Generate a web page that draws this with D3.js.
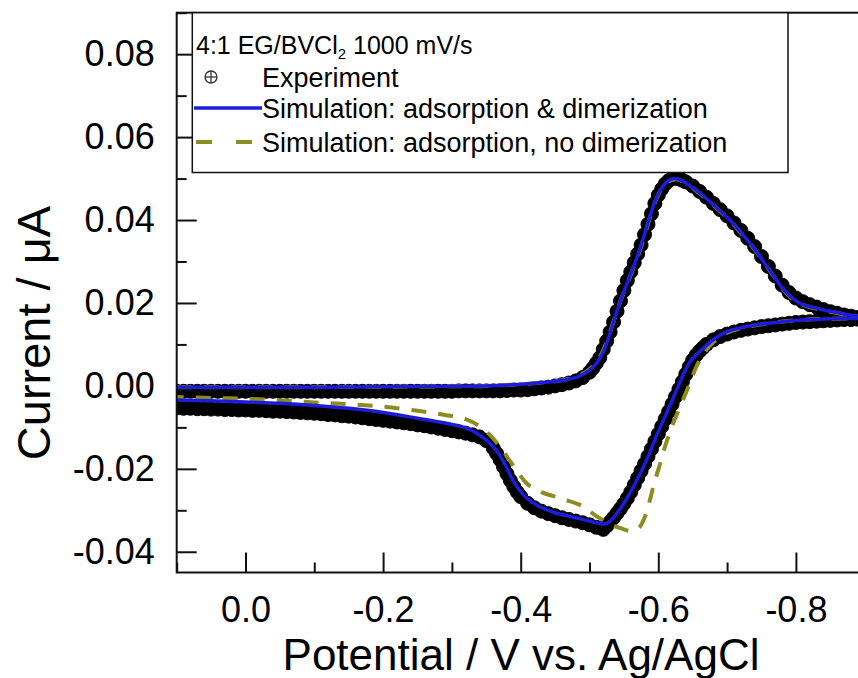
<!DOCTYPE html>
<html>
<head>
<meta charset="utf-8">
<script src="https://cdn.jsdelivr.net/npm/d3@7"></script>
<style>
  body { margin: 0; background: #fff; }
  svg text { font-family: "Liberation Sans", Arial, sans-serif; fill: #000; }
</style>
</head>
<body>
<svg id="chart" width="858" height="678"></svg>
<script>
// x tick values / labels (potential, V vs Ag/AgCl)
const xTickValues = [0, -0.2, -0.4, -0.6, -0.8];
const xTickLabels = ['0.0', '-0.2', '-0.4', '-0.6', '-0.8'];
const xMinorTicks = [0.1, -0.1, -0.3, -0.5, -0.7, -0.9];
// y tick values / labels (current, uA)
const yTickValues = [-0.04, -0.02, 0, 0.02, 0.04, 0.06, 0.08];
const yTickLabels = ['-0.04', '-0.02', '0.00', '0.02', '0.04', '0.06', '0.08'];
const yMinorTicks = [-0.03, -0.01, 0.01, 0.03, 0.05, 0.07, 0.09];

// experiment, forward sweep [potential, current]
const expForward = [
  [0.10,-0.0013],[0.09,-0.0013],[0.08,-0.0013],[0.07,-0.0013],[0.06,-0.0013],[0.05,-0.0013],[0.04,-0.0013],[0.03,-0.0013],[0.02,-0.0013],[0.01,-0.0013],
  [0.00,-0.0013],[-0.01,-0.0013],[-0.02,-0.0013],[-0.03,-0.0013],[-0.04,-0.0013],[-0.05,-0.0013],[-0.06,-0.0013],[-0.07,-0.0013],[-0.08,-0.0013],[-0.09,-0.0013],
  [-0.10,-0.0013],[-0.11,-0.0013],[-0.12,-0.0013],[-0.13,-0.0013],[-0.14,-0.0013],[-0.15,-0.0013],[-0.16,-0.0013],[-0.17,-0.0013],[-0.18,-0.0013],[-0.19,-0.0013],
  [-0.20,-0.0013],[-0.21,-0.0013],[-0.22,-0.0013],[-0.23,-0.0013],[-0.24,-0.0013],[-0.25,-0.0013],[-0.26,-0.0013],[-0.27,-0.0013],[-0.28,-0.0013],[-0.29,-0.0013],
  [-0.30,-0.0013],[-0.31,-0.0012],[-0.32,-0.0012],[-0.33,-0.0012],[-0.34,-0.0012],[-0.35,-0.0012],[-0.36,-0.0012],[-0.37,-0.0012],[-0.38,-0.0011],[-0.39,-0.0010],
  [-0.40,-0.0010],[-0.41,-0.0009],[-0.42,-0.0007],[-0.43,-0.0005],[-0.44,-0.0003],[-0.45,0.0000],[-0.46,0.0003],[-0.47,0.0007],[-0.48,0.0012],[-0.49,0.0020],
  [-0.50,0.0033],[-0.505,0.0043],[-0.51,0.0055],[-0.515,0.0068],[-0.52,0.0088],[-0.525,0.0108],[-0.53,0.0130],[-0.535,0.0154],[-0.54,0.0180],[-0.545,0.0205],
  [-0.55,0.0230],[-0.555,0.0254],[-0.56,0.0275],[-0.565,0.0297],[-0.57,0.0318],[-0.575,0.0340],[-0.58,0.0365],[-0.585,0.0390],[-0.59,0.0415],[-0.595,0.0440],
  [-0.60,0.0460],[-0.605,0.0475],[-0.61,0.0487],[-0.615,0.0495],[-0.62,0.0500],[-0.625,0.0501],[-0.63,0.0499],[-0.635,0.0496],[-0.64,0.0492],[-0.65,0.0482],
  [-0.66,0.0469],[-0.67,0.0455],[-0.68,0.0440],[-0.69,0.0425],[-0.70,0.0410],[-0.71,0.0393],[-0.72,0.0375],[-0.73,0.0356],[-0.74,0.0336],[-0.75,0.0312],
  [-0.76,0.0288],[-0.77,0.0265],[-0.78,0.0243],[-0.79,0.0225],[-0.80,0.0212],[-0.81,0.0203],[-0.82,0.0196],[-0.83,0.0190],[-0.84,0.0184],[-0.85,0.0179],
  [-0.86,0.0175],[-0.87,0.0171],[-0.88,0.0168],[-0.89,0.0165],[-0.90,0.0162]
];
// experiment, reverse sweep
const expReverse = [
  [-0.90,0.0162],[-0.89,0.0161],[-0.88,0.0160],[-0.87,0.0160],[-0.86,0.0159],[-0.85,0.0158],[-0.84,0.0157],[-0.83,0.0156],[-0.82,0.0155],[-0.81,0.0154],
  [-0.80,0.0153],[-0.79,0.0151],[-0.78,0.0149],[-0.77,0.0147],[-0.76,0.0145],[-0.75,0.0143],[-0.74,0.0140],[-0.73,0.0137],[-0.72,0.0134],[-0.71,0.0130],
  [-0.70,0.0125],[-0.69,0.0119],[-0.68,0.0111],[-0.67,0.0100],[-0.665,0.0092],[-0.66,0.0084],[-0.655,0.0074],[-0.65,0.0062],[-0.645,0.0046],[-0.64,0.0028],
  [-0.635,0.0010],[-0.63,-0.0008],[-0.625,-0.0026],[-0.62,-0.0044],[-0.615,-0.0062],[-0.61,-0.0080],[-0.605,-0.0098],[-0.60,-0.0116],[-0.595,-0.0134],[-0.59,-0.0152],
  [-0.585,-0.0170],[-0.58,-0.0188],[-0.575,-0.0205],[-0.57,-0.0222],[-0.565,-0.0239],[-0.56,-0.0256],[-0.555,-0.0271],[-0.55,-0.0284],[-0.545,-0.0296],[-0.54,-0.0307],
  [-0.535,-0.0318],[-0.53,-0.0328],[-0.525,-0.0338],[-0.52,-0.0346],[-0.51,-0.0341],[-0.50,-0.0335],[-0.49,-0.0330],[-0.48,-0.0326],[-0.47,-0.0322],[-0.46,-0.0318],
  [-0.45,-0.0313],[-0.44,-0.0308],[-0.43,-0.0302],[-0.42,-0.0294],[-0.41,-0.0283],[-0.40,-0.0267],[-0.395,-0.0256],[-0.39,-0.0243],[-0.385,-0.0228],[-0.38,-0.0212],
  [-0.375,-0.0195],[-0.37,-0.0178],[-0.365,-0.0163],[-0.36,-0.0150],[-0.35,-0.0132],[-0.34,-0.0123],[-0.33,-0.0118],[-0.32,-0.0114],[-0.31,-0.0111],[-0.30,-0.0108],
  [-0.29,-0.0105],[-0.28,-0.0102],[-0.27,-0.0099],[-0.26,-0.0096],[-0.25,-0.0094],[-0.24,-0.0091],[-0.23,-0.0089],[-0.22,-0.0087],[-0.21,-0.0085],[-0.20,-0.0083],
  [-0.19,-0.0081],[-0.18,-0.0079],[-0.17,-0.0077],[-0.16,-0.0075],[-0.15,-0.0073],[-0.14,-0.0072],[-0.13,-0.0070],[-0.12,-0.0069],[-0.11,-0.0067],[-0.10,-0.0066],
  [-0.09,-0.0065],[-0.08,-0.0064],[-0.07,-0.0063],[-0.06,-0.0062],[-0.05,-0.0061],[-0.04,-0.0061],[-0.03,-0.0060],[-0.02,-0.0059],[-0.01,-0.0059],[0.00,-0.0058],
  [0.01,-0.0058],[0.02,-0.0057],[0.03,-0.0057],[0.04,-0.0056],[0.05,-0.0056],[0.06,-0.0055],[0.07,-0.0055],[0.08,-0.0054],[0.09,-0.0054],[0.10,-0.0053]
];

// simulation: adsorption & dimerization (forward then reverse)
const simDimer = [
  [0.10,-0.0003],[0.00,-0.0003],[-0.10,-0.0003],[-0.20,-0.0002],[-0.30,-0.0001],[-0.35,0.0000],[-0.40,0.0004],[-0.43,0.0008],[-0.45,0.0011],
  [-0.47,0.0016],[-0.49,0.0027],[-0.50,0.0038],[-0.51,0.0054],[-0.52,0.0082],[-0.53,0.0128],[-0.544,0.0200],[-0.56,0.0270],[-0.573,0.0328],
  [-0.585,0.0393],[-0.597,0.0452],[-0.61,0.0488],[-0.622,0.0500],[-0.635,0.0494],[-0.655,0.0472],[-0.68,0.0437],[-0.704,0.0400],[-0.72,0.0370],
  [-0.738,0.0334],[-0.762,0.0279],[-0.786,0.0225],[-0.805,0.0200],[-0.825,0.0189],[-0.85,0.0180],[-0.875,0.0172],[-0.90,0.0164],
  [-0.85,0.0162],[-0.80,0.0158],[-0.76,0.0151],[-0.728,0.0143],[-0.70,0.0131],[-0.68,0.0112],[-0.665,0.0090],[-0.655,0.0075],[-0.646,0.0058],
  [-0.64,0.0040],[-0.63,0.0003],[-0.612,-0.0066],[-0.597,-0.0122],[-0.583,-0.0179],[-0.568,-0.0230],[-0.553,-0.0275],[-0.54,-0.0307],[-0.53,-0.0326],
  [-0.522,-0.0333],[-0.51,-0.0330],[-0.49,-0.0322],[-0.475,-0.0316],[-0.45,-0.0306],[-0.427,-0.0291],[-0.41,-0.0272],[-0.398,-0.0251],[-0.388,-0.0225],
  [-0.379,-0.0195],[-0.368,-0.0163],[-0.355,-0.0138],[-0.34,-0.0118],[-0.325,-0.0104],[-0.30,-0.0093],[-0.25,-0.0078],[-0.20,-0.0064],[-0.15,-0.0054],
  [-0.10,-0.0047],[-0.05,-0.0042],[0.00,-0.0039],[0.05,-0.0036],[0.10,-0.0034]
];
// simulation: adsorption, no dimerization
const simNoDimer = [
  [0.10,-0.0003],[0.00,-0.0003],[-0.10,-0.0003],[-0.20,-0.0002],[-0.30,-0.0001],[-0.35,0.0000],[-0.40,0.0004],[-0.43,0.0008],[-0.45,0.0011],
  [-0.47,0.0017],[-0.49,0.0029],[-0.50,0.0040],[-0.51,0.0057],[-0.52,0.0086],[-0.53,0.0130],[-0.544,0.0200],[-0.56,0.0268],[-0.573,0.0325],
  [-0.585,0.0390],[-0.597,0.0450],[-0.61,0.0487],[-0.624,0.0498],[-0.637,0.0492],[-0.655,0.0471],[-0.68,0.0436],[-0.704,0.0399],[-0.72,0.0369],
  [-0.738,0.0333],[-0.762,0.0278],[-0.786,0.0224],[-0.805,0.0199],[-0.825,0.0188],[-0.85,0.0179],[-0.875,0.0171],[-0.90,0.0164],
  [-0.85,0.0162],[-0.80,0.0158],[-0.76,0.0151],[-0.728,0.0142],[-0.70,0.0128],[-0.68,0.0105],[-0.665,0.0075],[-0.655,0.0045],[-0.645,0.0003],
  [-0.633,-0.0045],[-0.621,-0.0093],[-0.611,-0.0140],[-0.602,-0.0191],[-0.594,-0.0235],[-0.587,-0.0280],[-0.58,-0.0318],[-0.572,-0.0342],
  [-0.561,-0.0350],[-0.545,-0.0343],[-0.534,-0.0336],[-0.51,-0.0314],[-0.49,-0.0290],[-0.46,-0.0272],[-0.43,-0.0256],[-0.41,-0.0237],
  [-0.394,-0.0203],[-0.384,-0.0180],[-0.37,-0.0147],[-0.355,-0.0118],[-0.34,-0.0097],[-0.32,-0.0080],[-0.29,-0.0070],[-0.25,-0.0060],
  [-0.20,-0.0050],[-0.15,-0.0044],[-0.10,-0.0040],[-0.05,-0.0035],[0.00,-0.0031],[0.05,-0.0029],[0.10,-0.0027]
];

const legendTitle = ['4:1 EG/BVCl', '2', ' 1000 mV/s'];
const legendLabels = ['Experiment', 'Simulation: adsorption & dimerization', 'Simulation: adsorption, no dimerization'];

const blue = '#1c1cdc';
const olive = '#8c8c22';

const svg = d3.select('#chart');
const plotLeft = 176.7, plotTop = 12.7, plotRight = 864.7, plotBottom = 572.5;

const x = d3.scaleLinear().domain([0.1, -0.9]).range([plotLeft, plotRight]);
const y = d3.scaleLinear().domain([-0.045, 0.09]).range([plotBottom, plotTop]);

svg.append('defs').append('clipPath').attr('id', 'plot-clip')
  .append('rect').attr('x', plotLeft).attr('y', plotTop)
  .attr('width', plotRight - plotLeft).attr('height', plotBottom - plotTop);

// ticks (inward)
const styleAxis = g => {
  g.select('.domain').remove();
  g.selectAll('line').attr('stroke', '#111').attr('stroke-width', 2);
  g.attr('font-family', null).attr('font-size', null);
};

svg.append('g')
  .attr('transform', 'translate(0,' + plotBottom + ')')
  .call(d3.axisBottom(x).tickValues(xTickValues).tickSize(-20).tickPadding(24)
    .tickFormat((d, i) => xTickLabels[i]))
  .call(styleAxis)
  .selectAll('text').style('font-size', '36px');

svg.append('g')
  .attr('transform', 'translate(0,' + plotBottom + ')')
  .call(d3.axisBottom(x).tickValues(xMinorTicks).tickSize(-10).tickFormat(''))
  .call(styleAxis);

svg.append('g')
  .attr('transform', 'translate(' + plotLeft + ',0)')
  .call(d3.axisLeft(y).tickValues(yTickValues).tickSize(-20).tickPadding(22)
    .tickFormat((d, i) => yTickLabels[i]))
  .call(styleAxis)
  .selectAll('text').style('font-size', '36px');

svg.append('g')
  .attr('transform', 'translate(' + plotLeft + ',0)')
  .call(d3.axisLeft(y).tickValues(yMinorTicks).tickSize(-10).tickFormat(''))
  .call(styleAxis);

// data
const plot = svg.append('g').attr('clip-path', 'url(#plot-clip)');

plot.selectAll('circle.exp')
  .data(expForward.concat(expReverse))
  .enter()
  .append('circle')
  .attr('class', 'exp')
  .attr('cx', d => x(d[0]))
  .attr('cy', d => y(d[1]))
  .attr('r', 7)
  .attr('fill', '#000')
  .attr('stroke', '#000')
  .attr('stroke-width', 1);

const line = d3.line()
  .x(d => x(d[0]))
  .y(d => y(d[1]))
  .curve(d3.curveCatmullRom.alpha(0.5));

plot.append('path')
  .attr('d', line(simNoDimer))
  .attr('fill', 'none')
  .attr('stroke', olive)
  .attr('stroke-width', 4)
  .attr('stroke-dasharray', '15,12');

plot.append('path')
  .attr('d', line(simDimer))
  .attr('fill', 'none')
  .attr('stroke', blue)
  .attr('stroke-width', 3.5);

// frame
svg.append('rect')
  .attr('x', plotLeft).attr('y', plotTop)
  .attr('width', plotRight - plotLeft).attr('height', plotBottom - plotTop)
  .attr('fill', 'none').attr('stroke', '#111').attr('stroke-width', 2);

// legend
const lg = svg.append('g');
lg.append('rect')
  .attr('x', 192.3).attr('y', plotTop)
  .attr('width', 788 - 192.3).attr('height', 172.5 - plotTop)
  .attr('fill', '#fff').attr('stroke', '#111').attr('stroke-width', 1.5);

const title = lg.append('text').attr('x', 196).attr('y', 54).style('font-size', '25px');
title.append('tspan').text(legendTitle[0]);
title.append('tspan').attr('dy', 5).style('font-size', '15px').text(legendTitle[1]);
title.append('tspan').attr('dy', -5).text(legendTitle[2]);

const rowY = [77, 108, 142];
lg.selectAll('text.entry')
  .data(legendLabels)
  .enter()
  .append('text')
  .attr('class', 'entry')
  .attr('x', 262)
  .attr('y', (d, i) => rowY[i] + 9.5)
  .style('font-size', '27px')
  .text(d => d);

// legend symbols
lg.append('circle').attr('cx', 211).attr('cy', rowY[0]).attr('r', 6)
  .attr('fill', 'none').attr('stroke', '#333').attr('stroke-width', 1.3);
lg.append('line').attr('x1', 205).attr('x2', 217).attr('y1', rowY[0]).attr('y2', rowY[0])
  .attr('stroke', '#333').attr('stroke-width', 1.3);
lg.append('line').attr('x1', 211).attr('x2', 211).attr('y1', rowY[0] - 6).attr('y2', rowY[0] + 6)
  .attr('stroke', '#333').attr('stroke-width', 1.3);

lg.append('line').attr('x1', 194).attr('x2', 262).attr('y1', rowY[1]).attr('y2', rowY[1])
  .attr('stroke', blue).attr('stroke-width', 3.5);
lg.append('line').attr('x1', 196).attr('x2', 256).attr('y1', rowY[2]).attr('y2', rowY[2])
  .attr('stroke', olive).attr('stroke-width', 4).attr('stroke-dasharray', '16,24');

// axis titles
svg.append('text')
  .attr('x', 521).attr('y', 670)
  .attr('text-anchor', 'middle')
  .style('font-size', '44px')
  .text('Potential / V vs. Ag/AgCl');

svg.append('text')
  .attr('transform', 'translate(50,333) rotate(-90)')
  .attr('text-anchor', 'middle')
  .style('font-size', '47px')
  .text('Current / μA');
</script>
</body>
</html>
